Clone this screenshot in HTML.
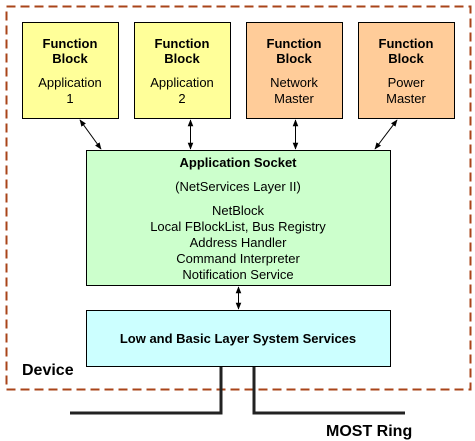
<!DOCTYPE html>
<html><head><style>body{margin:0;background:#fff}svg{display:block}text{font-family:"Liberation Sans",Arial,sans-serif;fill:#000}</style></head>
<body>
<svg width="475" height="441" viewBox="0 0 475 441" xmlns="http://www.w3.org/2000/svg">
<defs><marker id="a" viewBox="0 0 10 10" refX="9" refY="5" markerWidth="7" markerHeight="7" orient="auto-start-reverse"><path d="M0,1 L10,5 L0,9 z" fill="#000"/></marker></defs>
<rect x="6.5" y="6.5" width="464" height="383" fill="none" stroke="#a9441a" stroke-width="2" stroke-dasharray="9,5"/>
<g stroke="#000" stroke-width="1">
<rect x="22.5" y="22.5" width="96" height="96" fill="#ffff99"/>
<rect x="134.5" y="22.5" width="96" height="96" fill="#ffff99"/>
<rect x="246.5" y="22.5" width="96" height="96" fill="#ffcc99"/>
<rect x="358.5" y="22.5" width="96" height="96" fill="#ffcc99"/>
<rect x="86.5" y="150.5" width="304" height="135" fill="#ccffcc"/>
<rect x="86.5" y="310.5" width="304" height="56" fill="#ccffff"/>
<line x1="80" y1="120" x2="101" y2="149" marker-start="url(#a)" marker-end="url(#a)"/>
<line x1="190.5" y1="120" x2="190.5" y2="149" marker-start="url(#a)" marker-end="url(#a)"/>
<line x1="295.5" y1="120" x2="295.5" y2="149" marker-start="url(#a)" marker-end="url(#a)"/>
<line x1="397" y1="120" x2="375" y2="149" marker-start="url(#a)" marker-end="url(#a)"/>
<line x1="238.5" y1="287" x2="238.5" y2="309" marker-start="url(#a)" marker-end="url(#a)"/>
</g>
<g fill="none" stroke="#222" stroke-width="3">
<polyline points="70,413 221,413 221,367"/>
<polyline points="254,367 254,413 405,413"/>
</g>
<g text-anchor="middle" font-size="13">
<text x="70" y="48" font-weight="bold">Function</text><text x="70" y="63" font-weight="bold">Block</text>
<text x="70" y="87">Application</text><text x="70" y="103">1</text>
<text x="182" y="48" font-weight="bold">Function</text><text x="182" y="63" font-weight="bold">Block</text>
<text x="182" y="87">Application</text><text x="182" y="103">2</text>
<text x="294" y="48" font-weight="bold">Function</text><text x="294" y="63" font-weight="bold">Block</text>
<text x="294" y="87">Network</text><text x="294" y="103">Master</text>
<text x="406" y="48" font-weight="bold">Function</text><text x="406" y="63" font-weight="bold">Block</text>
<text x="406" y="87">Power</text><text x="406" y="103">Master</text>
<text x="238" y="167" font-weight="bold">Application Socket</text>
<text x="238" y="191">(NetServices Layer II)</text>
<text x="238" y="215">NetBlock</text>
<text x="238" y="231">Local FBlockList, Bus Registry</text>
<text x="238" y="247">Address Handler</text>
<text x="238" y="263">Command Interpreter</text>
<text x="238" y="279">Notification Service</text>
<text x="238" y="343" font-weight="bold">Low and Basic Layer System Services</text>
</g>
<text x="22" y="375" font-size="16" font-weight="bold">Device</text>
<text x="326" y="436" font-size="16" font-weight="bold">MOST Ring</text>
</svg>
</body></html>
